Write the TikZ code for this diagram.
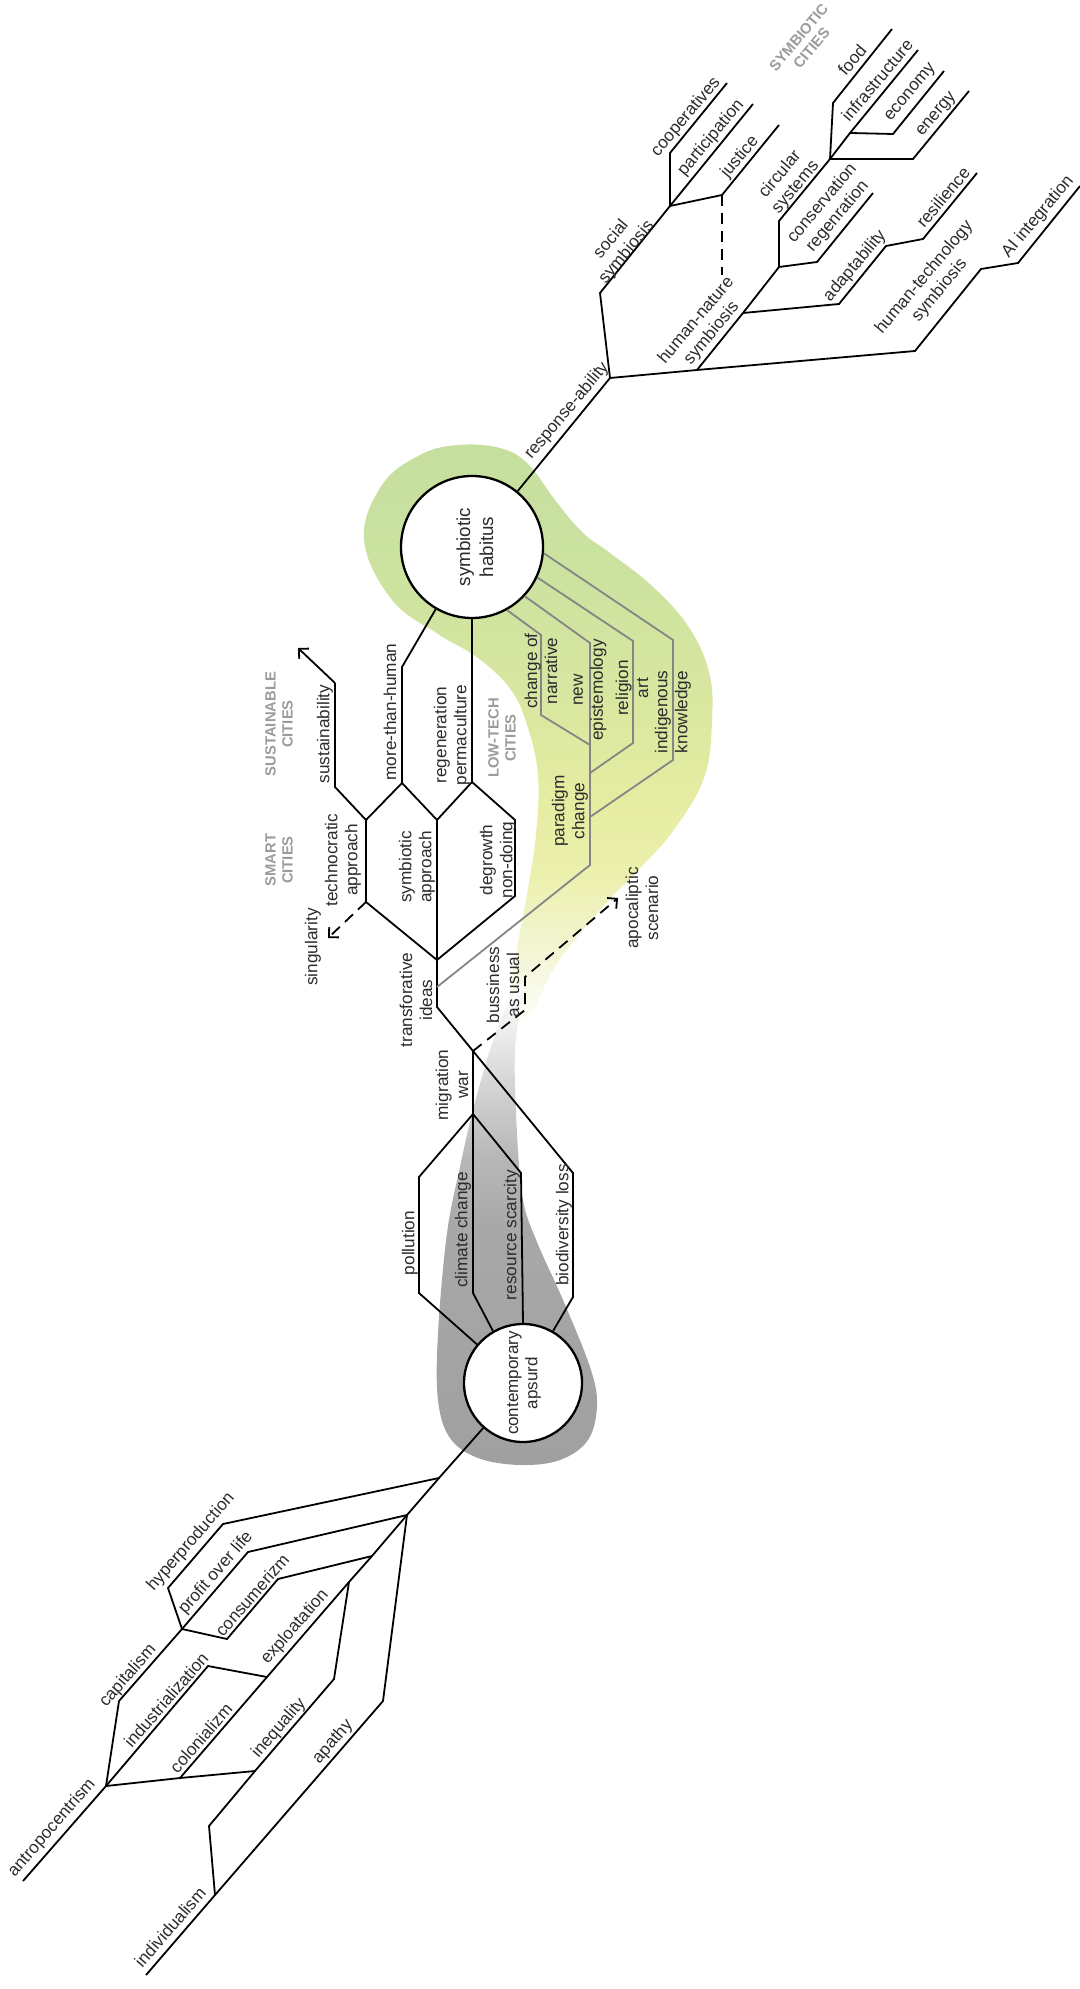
\documentclass[tikz,border=0pt]{standalone}
\usepackage{fontspec}
\setmainfont{Liberation Sans}
\usetikzlibrary{arrows.meta}

\definecolor{inkgray}{HTML}{2B2B2B}
\definecolor{headgray}{HTML}{9B9B9B}
\definecolor{threadgray}{HTML}{858585}
\definecolor{greenA}{HTML}{C5DF9F}
\definecolor{greenB}{HTML}{CBE2A0}
\definecolor{greenC}{HTML}{D9E7A0}
\definecolor{greenD}{HTML}{E6EDA2}
\definecolor{greenE}{HTML}{ECF0AE}
\definecolor{greenF}{HTML}{F3F5D2}
\definecolor{greenG}{HTML}{FCFCF4}
\definecolor{grayA}{HTML}{ECECEC}
\definecolor{grayB}{HTML}{D0D0D0}
\definecolor{grayC}{HTML}{B8B8B8}
\definecolor{grayD}{HTML}{A8A8A8}
\definecolor{grayE}{HTML}{A0A0A0}

\pgfdeclareverticalshading{greenfade}{100bp}{color(0bp)=(white); color(25bp)=(white); color(26.8bp)=(greenG); color(32bp)=(greenF); color(38bp)=(greenE); color(44bp)=(greenD); color(53bp)=(greenC); color(65bp)=(greenB); color(75bp)=(greenA); color(100bp)=(greenA)}
\pgfdeclareverticalshading{grayfade}{100bp}{color(0bp)=(grayE); color(25bp)=(grayE); color(49.5bp)=(grayD); color(56.8bp)=(grayC); color(63bp)=(grayB); color(69.3bp)=(grayA); color(75bp)=(white); color(100bp)=(white)}

\newcommand{\lblfont}{\fontsize{8.6}{10}\selectfont}
\newcommand{\hubfont}{\fontsize{9.4}{11.5}\selectfont}
\newcommand{\headfont}{\fontsize{7.4}{8.4}\selectfont\bfseries}

\tikzstyle{branch} = [line width=0.9pt, black]
\tikzstyle{thread} = [line width=0.9pt, threadgray]
\tikzstyle{dashline} = [line width=0.9pt, black, dash pattern=on 5.5pt off 3.5pt]
\tikzstyle{arrow} = [->, >={Straight Barb[length=3.5pt,width=7pt]}]
\tikzstyle{hub} = [circle, draw=black, line width=1.15pt, fill=white, inner sep=0pt]
\tikzstyle{hubtext} = [font=\hubfont, text=inkgray, align=center, rotate=90]
\tikzstyle{lbl} = [font=\lblfont, text=inkgray, align=center, inner sep=0pt]
\tikzstyle{uplbl} = [lbl, rotate=50]
\tikzstyle{lowlbl} = [lbl, rotate=49]
\tikzstyle{vlbl} = [lbl, rotate=90]
\tikzstyle{cityhead} = [font=\headfont, text=headgray, align=center, inner sep=0pt]

\begin{document}
\begin{tikzpicture}[x=0.5pt, y=-0.5pt]
    \useasboundingbox (0,0) rectangle (1080,1989);

    % halos
    \shade[shading=greenfade] plot[smooth cycle, tension=0.65] coordinates {(364,540) (382,485) (420,455) (458,445) (500,448) (528,464) (555,500) (582,532) (610,553) (652,586) (688,626) (709,672) (712,720) (704,778) (673,831) (640,868) (600,910) (556,965) (527,1021) (509,1012) (516,954) (527,894) (536,835) (538,776) (528,728) (511,690) (478,658) (438,634) (392,600)};
    \shade[shading=grayfade] plot[smooth cycle, tension=0.6] coordinates {(523,985) (515,1050) (517,1133) (523,1200) (537,1242) (563,1300) (590,1367) (597,1405) (588,1440) (560,1460) (520,1465) (478,1458) (450,1438) (438,1400) (438,1333) (447,1233) (460,1167) (473,1110) (490,1050) (505,1010)};

    % the two hubs
    \node (sh) [hub, minimum size=71pt] at (472,547) {};
    \node (ca) [hub, minimum size=59pt] at (523,1383) {};
    \node (shtext) [hubtext] at (475,547) {symbiotic\\habitus};
    \node (catext) [hubtext, font=\fontsize{8.5}{9.6}\selectfont] at (524,1383) {contemporary\\apsurd};

    % upper tree
    \coordinate (ra) at (610,378);
    \coordinate (ss0) at (600,293);
    \coordinate (ss) at (670,206);
    \coordinate (coop0) at (670,153);
    \coordinate (coop) at (727,83);
    \coordinate (part) at (753,104);
    \coordinate (jus0) at (722,195);
    \coordinate (jus) at (779,125);
    \coordinate (jusdash) at (722,275);
    \coordinate (hn) at (697,370);
    \coordinate (ad) at (743,313);
    \coordinate (cs) at (779,267);
    \coordinate (ad1) at (839,304);
    \coordinate (ad2) at (886,246);
    \coordinate (res0) at (923,239);
    \coordinate (res) at (977,173);
    \coordinate (con0) at (817,262);
    \coordinate (con) at (873,193);
    \coordinate (cs1) at (779,221);
    \coordinate (en) at (830,159);
    \coordinate (food0) at (833,103);
    \coordinate (food) at (892,29);
    \coordinate (ec) at (850,133);
    \coordinate (infra) at (918,50);
    \coordinate (eco0) at (893,134);
    \coordinate (eco) at (944,71);
    \coordinate (ene0) at (913,159);
    \coordinate (ene) at (969,91);
    \coordinate (ht0) at (915,351);
    \coordinate (ht1) at (981,269);
    \coordinate (ai0) at (1018,263);
    \coordinate (ai) at (1080,186);

    \draw [branch] (sh) -- (ra) -- (ss0) -- (ss) -- (coop0) -- (coop);
    \draw [branch] (ss) -- (part);
    \draw [branch] (ss) -- (jus0) -- (jus);
    \draw [dashline] (jus0) -- (jusdash);
    \draw [branch] (ra) -- (hn) -- (ht0) -- (ht1) -- (ai0) -- (ai);
    \draw [branch] (hn) -- (ad) -- (cs) -- (cs1) -- (en) -- (food0) -- (food);
    \draw [branch] (ad) -- (ad1) -- (ad2) -- (res0) -- (res);
    \draw [branch] (cs) -- (con0) -- (con);
    \draw [branch] (en) -- (ec) -- (infra);
    \draw [branch] (ec) -- (eco0) -- (eco);
    \draw [branch] (en) -- (ene0) -- (ene);

    % middle part
    \coordinate (mth0) at (402,667);
    \coordinate (mth) at (402,783);
    \coordinate (rp) at (472,782);
    \coordinate (tc) at (366,820);
    \coordinate (sa) at (437,820);
    \coordinate (dg) at (515,820);
    \coordinate (sus0) at (335,787);
    \coordinate (sus1) at (335,683);
    \coordinate (sus) at (298,648);
    \coordinate (tc1) at (366,902);
    \coordinate (sing) at (328,938);
    \coordinate (dg1) at (515,896);
    \coordinate (ti) at (437,960);
    \coordinate (ti2) at (437,987);
    \coordinate (ti1) at (437,1007);
    \coordinate (mw) at (473,1051);
    \coordinate (bu0) at (525,1010);
    \coordinate (bu1) at (525,977);
    \coordinate (apo) at (618,898);
    \coordinate (mw1) at (473,1114);
    \coordinate (cc) at (473,1293);
    \coordinate (pol0) at (419,1177);
    \coordinate (pol1) at (419,1293);
    \coordinate (rs0) at (521,1173);
    \coordinate (bio0) at (573,1173);
    \coordinate (bio1) at (573,1297);

    \draw [branch] (sh) -- (mth0) -- (mth) -- (tc) -- (sus0) -- (sus1);
    \draw [branch, arrow] (sus1) -- (sus);
    \draw [branch] (mth) -- (sa);
    \draw [branch] (sh) -- (rp) -- (sa) -- (ti) -- (ti1) -- (mw) -- (bio0) -- (bio1) -- (ca.60);
    \draw [branch] (rp) -- (dg) -- (dg1) -- (ti);
    \draw [branch] (tc) -- (tc1) -- (ti);
    \draw [dashline, arrow] (tc1) -- (sing);
    \draw [dashline, arrow] (mw) -- (bu0) -- (bu1) -- (apo);
    \draw [branch] (mw) -- (mw1) -- (cc) -- (ca.120);
    \draw [branch] (mw1) -- (pol0) -- (pol1) -- (ca.140);
    \draw [branch] (mw1) -- (rs0) -- (ca.north);

    % grey threads of the habitus
    \coordinate (g1a) at (541,635);
    \coordinate (g1b) at (541,715);
    \coordinate (g1c) at (590,745);
    \coordinate (g2a) at (590,643);
    \coordinate (pc) at (590,865);
    \coordinate (g3a) at (633,641);
    \coordinate (g3b) at (633,743);
    \coordinate (g3c) at (590,773);
    \coordinate (g4a) at (673,640);
    \coordinate (g4b) at (673,760);
    \coordinate (g4c) at (590,817);

    \draw [thread] (sh.-61) -- (g1a) -- (g1b) -- (g1c);
    \draw [thread] (sh.-43) -- (g2a) -- (pc) -- (ti2);
    \draw [thread] (sh.-25) -- (g3a) -- (g3b) -- (g3c);
    \draw [thread] (sh.-5) -- (g4a) -- (g4b) -- (g4c);

    % lower tree
    \coordinate (j1) at (439,1478);
    \coordinate (j2) at (407,1515);
    \coordinate (j3) at (372,1556);
    \coordinate (j4) at (349,1582);
    \coordinate (j5) at (267,1677);
    \coordinate (j6) at (180,1778);
    \coordinate (hyp0) at (223,1524);
    \coordinate (hyp1) at (168,1588);
    \coordinate (cap) at (182,1629);
    \coordinate (prof0) at (248,1552);
    \coordinate (cons0) at (278,1579);
    \coordinate (cons1) at (227,1639);
    \coordinate (cap1) at (119,1701);
    \coordinate (ant) at (106,1786);
    \coordinate (antend) at (23,1881);
    \coordinate (ind0) at (208,1666);
    \coordinate (ineq) at (255,1771);
    \coordinate (ineq0) at (334,1679);
    \coordinate (ineq1) at (209,1826);
    \coordinate (indiv) at (215,1895);
    \coordinate (ap0) at (383,1701);
    \coordinate (indend) at (146,1975);

    \draw [branch] (ca) -- (j1) -- (j2) -- (j3) -- (j4) -- (j5) -- (j6);
    \draw [branch] (j1) -- (hyp0) -- (hyp1) -- (cap);
    \draw [branch] (j2) -- (prof0) -- (cap);
    \draw [branch] (j3) -- (cons0) -- (cons1) -- (cap);
    \draw [branch] (cap) -- (cap1) -- (ant) -- (antend);
    \draw [branch] (ant) -- (ind0) -- (j5);
    \draw [branch] (ant) -- (j6) -- (ineq);
    \draw [branch] (j4) -- (ineq0) -- (ineq) -- (ineq1) -- (indiv);
    \draw [branch] (j2) -- (ap0) -- (indiv) -- (indend);

    % labels, upper tree
    \node (tresp) [uplbl] at (567,411) {response-ability};
    \node (tsocial) [uplbl] at (619,246) {social\\symbiosis};
    \node (tcoop) [uplbl] at (686,117) {cooperatives};
    \node (tpart) [uplbl] at (711,138) {participation};
    \node (tjus) [uplbl] at (740,157) {justice};
    \node (thn) [uplbl] at (704,327) {human-nature\\symbiosis};
    \node (tcirc) [uplbl] at (788,181) {circular\\systems};
    \node (tcons) [uplbl] at (830,210) {conservation\\regenration};
    \node (tfood) [uplbl] at (852,60) {food};
    \node (tinfra) [uplbl] at (877,80) {infrastructure};
    \node (teco) [uplbl] at (911,93) {economy};
    \node (tene) [uplbl] at (937,115) {energy};
    \node (tadapt) [uplbl] at (855,266) {adaptability};
    \node (tres) [uplbl] at (943,197) {resilience};
    \node (tht) [uplbl] at (932,284) {human-technology\\symbiosis};
    \node (tai) [uplbl] at (1038,217) {AI integration};
    \node (hsymb) [cityhead, rotate=50] at (805,43) {SYMBIOTIC\\CITIES};

    % labels, middle
    \node (hsust) [cityhead, rotate=90] at (279,724) {SUSTAINABLE\\CITIES};
    \node (hsmart) [cityhead, rotate=90] at (279,860) {SMART\\CITIES};
    \node (hlow) [cityhead, rotate=90] at (502,738) {LOW-TECH\\CITIES};
    \node (tsust) [vlbl] at (325,734) {sustainability};
    \node (tmth) [vlbl] at (390,712) {more-than-human};
    \node (tregen) [vlbl] at (452,735) {regeneration\\permaculture};
    \node (tnarr) [vlbl] at (541,671) {change of\\narrative};
    \node (tepis) [vlbl] at (590,690) {new\\epistemology};
    \node (trel) [vlbl] at (632,688) {religion\\art};
    \node (tindig) [vlbl] at (673,712) {indigenous\\knowledge};
    \node (tparad) [vlbl] at (570,811) {paradigm\\change};
    \node (ttech) [vlbl] at (343,860) {technocratic\\approach};
    \node (tsymb) [vlbl] at (417,867) {symbiotic\\approach};
    \node (tdeg) [vlbl] at (498,860) {degrowth\\non-doing};
    \node (tsing) [vlbl] at (313,947) {singularity};
    \node (ttrans) [vlbl] at (416,1000) {transforative\\ideas};
    \node (tbus) [vlbl] at (503,985) {bussiness\\as usual};
    \node (tapo) [vlbl] at (642,908) {apocaliptic\\scenario};
    \node (tmig) [vlbl] at (452,1085) {migration\\war};
    \node (tpol) [vlbl] at (410,1243) {pollution};
    \node (tclim) [vlbl] at (463,1230) {climate change};
    \node (tscar) [vlbl] at (512,1235) {resource scarcity};
    \node (tbio) [vlbl] at (564,1225) {biodiversity loss};

    % labels, lower tree
    \node (thyp) [lowlbl] at (191,1542) {hyperproduction};
    \node (tprof) [lowlbl] at (216,1573) {profit over life};
    \node (tcons2) [lowlbl] at (252,1595) {consumerizm};
    \node (tcap) [lowlbl] at (128,1676) {capitalism};
    \node (tind) [lowlbl] at (166,1700) {industrialization};
    \node (texp) [lowlbl] at (295,1627) {exploatation};
    \node (tcol) [lowlbl] at (201,1738) {colonializm};
    \node (tineq) [lowlbl] at (279,1728) {inequality};
    \node (tapat) [lowlbl] at (333,1742) {apathy};
    \node (tantro) [lowlbl] at (52,1828) {antropocentrism};
    \node (tindiv) [lowlbl] at (170,1927) {individualism};
\end{tikzpicture}
\end{document}
